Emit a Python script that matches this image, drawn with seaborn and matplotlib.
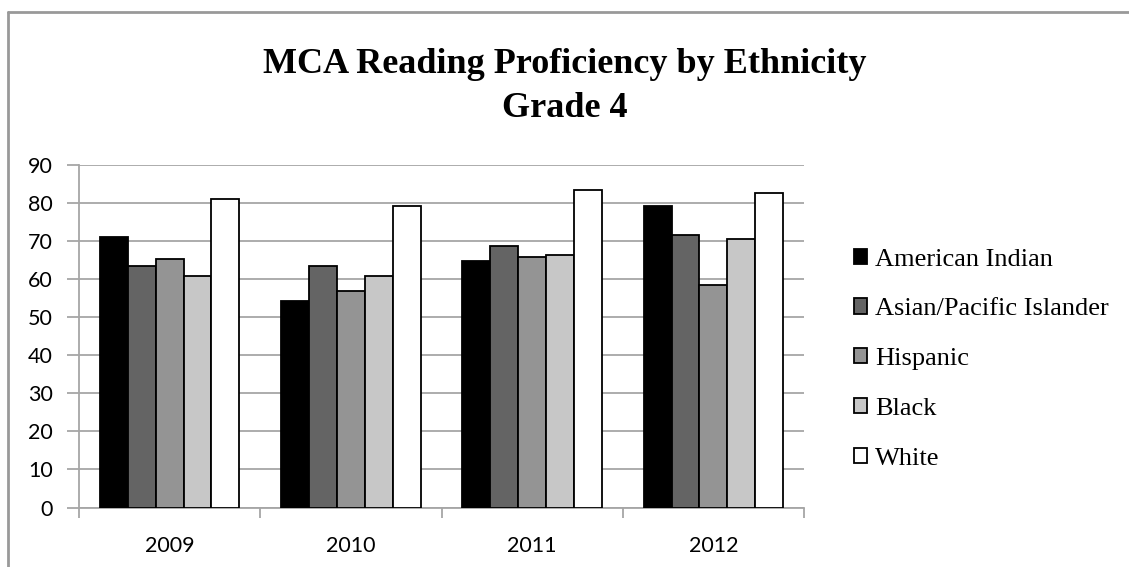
import matplotlib
matplotlib.use("Agg")
import matplotlib.pyplot as plt
from matplotlib.lines import Line2D
import seaborn as sns
import pandas as pd

years = ["2009", "2010", "2011", "2012"]
groups = ["American Indian", "Asian/Pacific Islander", "Hispanic", "Black", "White"]
american_indian = [71.0, 54.3, 64.9, 79.2]
asian_pacific = [63.5, 63.4, 68.7, 71.6]
hispanic = [65.3, 57.0, 65.9, 58.5]
black = [60.8, 60.8, 66.3, 70.5]
white = [81.0, 79.1, 83.3, 82.7]
y_ticks = [0, 10, 20, 30, 40, 50, 60, 70, 80, 90]

colors = ["#000000", "#646464", "#949494", "#c7c7c7", "#ffffff"]

series = [american_indian, asian_pacific, hispanic, black, white]
rows = []
for g, vals in zip(groups, series):
    for yr, v in zip(years, vals):
        rows.append({"Year": yr, "Group": g, "Proficiency": v})
df = pd.DataFrame(rows)

sns.set_theme(style="white")
plt.rcParams["font.family"] = ["Lato", "DejaVu Sans"]
plt.rcParams["text.color"] = "black"

fig = plt.figure(figsize=(11.29, 5.67), dpi=100)
ax = fig.add_axes([79 / 1129, 59.5 / 567, (804 - 79) / 1129, (507.5 - 165) / 567])

sns.barplot(data=df, x="Year", y="Proficiency", hue="Group", order=years,
            hue_order=groups, palette=colors, width=0.77, gap=0,
            edgecolor="black", linewidth=1.3, saturation=1, ax=ax,
            legend=True, errorbar=None, zorder=3)

ax.set_xlim(-0.5, 3.5)
ax.set_ylim(0, 90)
ax.set_yticks(y_ticks)
ax.set_xlabel("")
ax.set_ylabel("")

grid_color = "#a6a6a6"
ax.yaxis.grid(True, color=grid_color, linewidth=1.3, zorder=0)
ax.set_axisbelow(True)
for side in ["top", "right"]:
    ax.spines[side].set_visible(False)
for side in ["left", "bottom"]:
    ax.spines[side].set_color(grid_color)
    ax.spines[side].set_linewidth(1.3)

ax.tick_params(axis="y", which="major", left=True, length=9, width=1.3,
               color=grid_color, pad=10, labelsize=15.5, labelcolor="black")
ax.set_xticks([-0.5, 0.5, 1.5, 2.5, 3.5], minor=True)
ax.tick_params(axis="x", which="minor", bottom=True, length=7, width=1.3,
               color=grid_color)
ax.tick_params(axis="x", which="major", bottom=False, length=0, pad=20.5,
               labelsize=15.5, labelcolor="black")

handles, labels = ax.get_legend_handles_labels()
ax.legend_.remove()
fig.legend(handles, labels, loc="upper left", bbox_to_anchor=(843 / 1129, 1 - 238 / 567),
           frameon=False, prop={"family": "Liberation Serif", "size": 19},
           handlelength=0.52, handleheight=0.52, handletextpad=0.3,
           labelspacing=1.05, borderaxespad=0)

title_font = {"family": "Liberation Serif", "weight": "bold", "size": 26}
fig.text(0.5, 1 - 73 / 567, "MCA Reading Proficiency by Ethnicity",
         ha="center", va="baseline", color="black", **title_font)
fig.text(0.5, 1 - 117 / 567, "Grade 4", ha="center", va="baseline",
         color="black", **title_font)

frame_color = "#999999"
fig.add_artist(Line2D([8 / 1129, 1], [1 - 12 / 567, 1 - 12 / 567],
                      transform=fig.transFigure, color=frame_color, linewidth=2))
fig.add_artist(Line2D([8 / 1129, 8 / 1129], [0, 1 - 12 / 567],
                      transform=fig.transFigure, color=frame_color, linewidth=2))

fig.savefig("out.png", dpi=100, facecolor="white")
